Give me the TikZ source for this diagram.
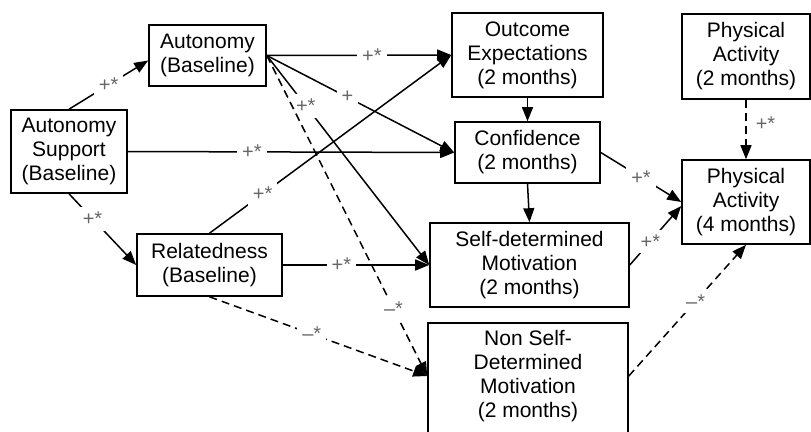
\documentclass[tikz,border=0pt]{standalone}
\usepackage{fontspec}
\setmainfont{Liberation Sans}
\usetikzlibrary{arrows.meta}

\begin{document}
\begin{tikzpicture}[x=1pt, y=-1pt,
    box/.style={draw, line width=1.6pt, align=center, inner sep=0pt, font=\fontsize{21}{24}\selectfont},
    link/.style={-{Triangle[length=14pt,width=11pt]}, line width=1.5pt},
    linkD/.style={link, dash pattern=on 8pt off 5pt},
    weight/.style={fill=white, text=black!60, inner sep=5pt, font=\fontsize{20}{20}\selectfont}]

      \useasboundingbox (0,0) rectangle (811,431);
      \clip (0,0) rectangle (811,431);

      % baseline
      \node[box, minimum width=116pt, minimum height=83pt] (supp) at (69,151.5) {Autonomy\\Support\\(Baseline)};
      \node[box, minimum width=117pt, minimum height=61pt] (aut) at (207.5,55.5) {Autonomy\\(Baseline)};
      \node[box, minimum width=145pt, minimum height=62pt] (rel) at (209.5,265) {Relatedness\\(Baseline)};

      % 2 months
      \node[box, minimum width=151pt, minimum height=84pt] (oe) at (527.5,55) {Outcome\\Expectations\\(2 months)};
      \node[box, minimum width=145pt, minimum height=61pt] (conf) at (527.5,152.5) {Confidence\\(2 months)};
      \node[box, minimum width=199pt, minimum height=84pt] (sdm) at (529.5,265) {Self-determined\\Motivation\\(2 months)};
      \node[box, draw=none, minimum width=200pt] (nsdm) at (528,376) {Non Self-\\Determined\\Motivation\\(2 months)};
      \draw[line width=1.6pt] (428,323) rectangle (628,450);
      \node[box, minimum width=128pt, minimum height=85pt] (pa2) at (746,56.5) {Physical\\Activity\\(2 months)};

      % 4 months
      \node[box, minimum width=128pt, minimum height=84pt] (pa4) at (746,202) {Physical\\Activity\\(4 months)};

      \draw[link] (supp.north) -- node[weight] {+*} ([yshift=-5pt]aut.west);
      \draw[link] (supp.east) -- node[weight, pos=.38] {+*} (conf.west);
      \draw[link] (supp.south) -- node[weight, pos=.35] {+*} (rel.west);

      \draw[link] (aut.east) -- node[weight, pos=.57] {+*} (oe.west);
      \draw[link] (aut.east) -- node[weight, pos=.43] {+} (conf.west);
      \draw[link] (aut.east) -- node[weight, pos=.24] {+*} (sdm.west);
      \draw[linkD] (aut.east) -- node[weight, pos=.79] {--*} (nsdm.west);

      \draw[link] (rel.north) -- node[weight, pos=.22] {+*} (oe.west);
      \draw[link] (rel.east) -- node[weight, pos=.4] {+*} (sdm.west);
      \draw[linkD] (rel.south) -- node[weight, pos=.47] {--*} (nsdm.west);

      \draw[link] (oe.south) -- (conf.north);
      \draw[link] (conf.south) -- (sdm.north);

      \draw[link] (conf.east) -- node[weight, pos=.5] {+*} (pa4.west);
      \draw[link] (sdm.east) -- node[weight, pos=.4] {+*} ([yshift=-4pt]pa4.west);
      \draw[linkD] (nsdm.east) -- node[weight, pos=.57] {--*} (pa4.south);
      \draw[linkD] (pa2.south) -- node[weight, pos=.4, right, fill=none, xshift=4pt] {+*} (pa4.north);
    \end{tikzpicture}
\end{document}
